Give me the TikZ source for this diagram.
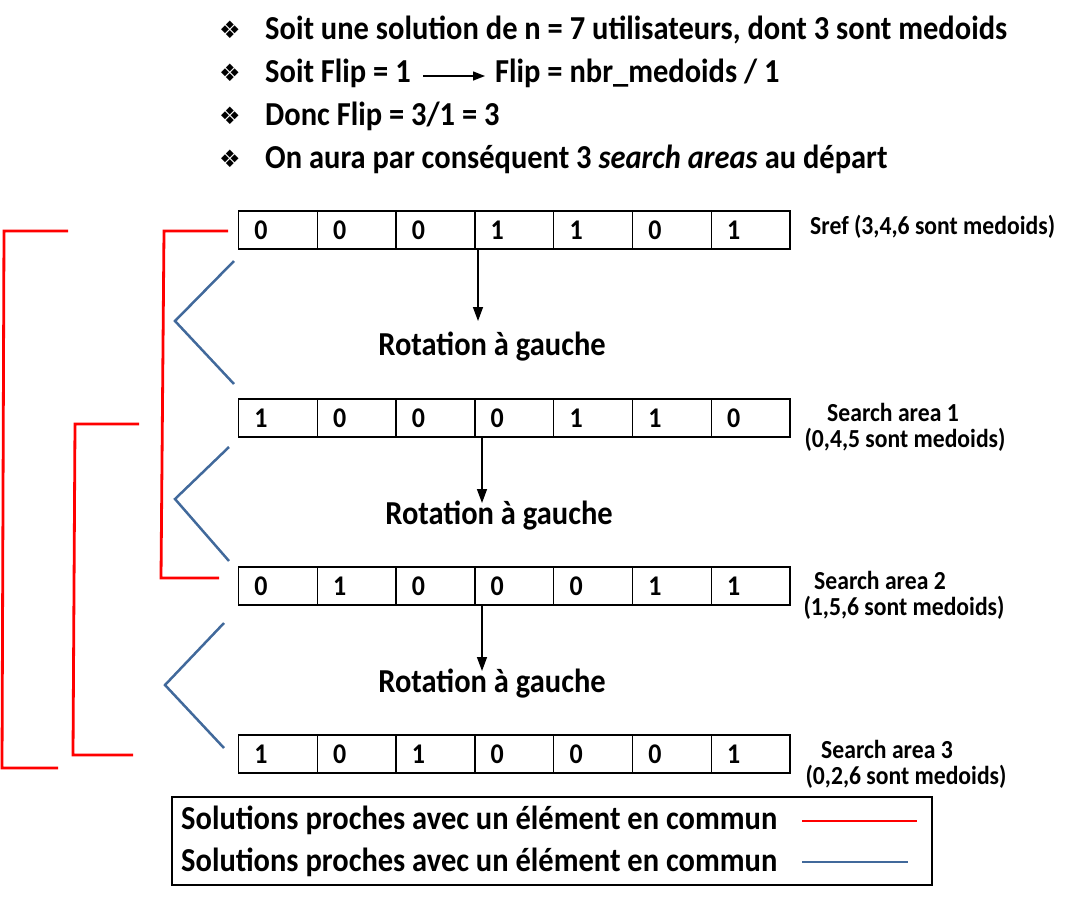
\documentclass[tikz,border=0pt]{standalone}
\usepackage{fontspec}
\setmainfont{Carlito}[FakeStretch=0.91]
\newfontfamily\symfont{DejaVu Sans}
\usetikzlibrary{arrows.meta}
\definecolor{redline}{RGB}{255,0,0}
\definecolor{blueline}{RGB}{65,105,155}
\tikzset{
  cell/.style={draw=black, line width=1.3pt, minimum width=78.8pt, minimum height=38pt, inner sep=0pt, font=\fontsize{28.5}{32}\selectfont\bfseries},
  bigtxt/.style={font=\fontsize{33.5}{38}\selectfont\bfseries, inner sep=0pt},
  smalltxt/.style={font=\fontsize{26}{30}\selectfont\bfseries, inner sep=0pt},
  redl/.style={draw=redline, line width=2.8pt},
  bluel/.style={draw=blueline, line width=2.5pt},
  arr/.style={draw=black, line width=1.4pt, -{Triangle[length=14pt,width=10pt]}},
}
\begin{document}
\begin{tikzpicture}[x=1pt,y=-1pt]
\useasboundingbox (0,0) rectangle (1076,906);
% bullets
\foreach \yy/\nm in {30/b1,73/b2,116/b3,159/b4}{
  \node[inner sep=0pt, font=\symfont\fontsize{24}{28}\selectfont] (\nm) at (230,\yy) {❖};
}
\node[bigtxt, anchor=west] (t1) at (265,30) {Soit une solution de n = 7 utilisateurs, dont 3 sont medoids};
\node[bigtxt, anchor=west] (t2a) at (265,73) {Soit Flip = 1};
\node[bigtxt, anchor=west] (t2b) at (495,73) {Flip = nbr\_medoids / 1};
\coordinate (fa) at (423,76);
\coordinate (fb) at (485,76);
\draw[draw=black, line width=1.4pt, -{Triangle[length=12pt,width=9pt]}] (fa) -- (fb);
\node[bigtxt, anchor=west] (t3) at (265,116) {Donc Flip = 3/1 = 3};
\node[bigtxt, anchor=west] (t4) at (265,159) {On aura par conséquent 3 \textit{search areas} au départ};
% rows
\foreach \r/\yy/\vals in {1/230/{0,0,0,1,1,0,1},2/418/{1,0,0,0,1,1,0},3/586/{0,1,0,0,0,1,1},4/754/{1,0,1,0,0,0,1}}{
  \foreach \v [count=\c] in \vals {
    \node[cell] (r\r c\c) at ({238.5+78.8*(\c-0.5)},\yy) {\hspace*{-34pt}\v};
  }
}
% labels
\node[smalltxt, anchor=west] (l1) at (810,227) {Sref (3,4,6 sont medoids)};
\node[smalltxt] (l2a) at (893,412) {Search area 1};
\node[smalltxt] (l2b) at (905,440) {(0,4,5 sont medoids)};
\node[smalltxt] (l3a) at (880,580) {Search area 2};
\node[smalltxt] (l3b) at (904,608) {(1,5,6 sont medoids)};
\node[smalltxt] (l4a) at (887,749) {Search area 3};
\node[smalltxt] (l4b) at (906,777) {(0,2,6 sont medoids)};
% rotations
\node[bigtxt] (rot1) at (492,347) {Rotation à gauche};
\node[bigtxt] (rot2) at (499,516) {Rotation à gauche};
\node[bigtxt] (rot3) at (492,684) {Rotation à gauche};
\coordinate (a1s) at (478,249);
\coordinate (a1e) at (478,321);
\coordinate (a2s) at (482,437);
\coordinate (a2e) at (482,503);
\coordinate (a3s) at (482,605);
\coordinate (a3e) at (482,671);
\draw[arr] (a1s) -- (a1e);
\draw[arr] (a2s) -- (a2e);
\draw[arr] (a3s) -- (a3e);
% red brackets
\draw[redl] (68,231) -- (4,231) -- (2,768) -- (58,768);
\draw[redl] (228,231) -- (164,231) -- (161,578) -- (219,578);
\draw[redl] (139,424) -- (75,424) -- (73,755) -- (133,755);
% blue chevrons
\draw[bluel] (234,261) -- (175,321) -- (234,384);
\draw[bluel] (229,447) -- (175,499) -- (229,561);
\draw[bluel] (224,623) -- (165,685) -- (224,748);
% legend
\node[draw=black, line width=1.3pt, minimum width=760pt, minimum height=88pt, inner sep=0pt] (leg) at (552,841) {};
\node[bigtxt, anchor=west] (lg1) at (181,820) {Solutions proches avec un élément en commun};
\node[bigtxt, anchor=west] (lg2) at (181,862) {Solutions proches avec un élément en commun};
\coordinate (lr1) at (802,821);
\coordinate (lr2) at (917,821);
\coordinate (lb1) at (802,862);
\coordinate (lb2) at (908,862);
\draw[redl] (lr1) -- (lr2);
\draw[bluel] (lb1) -- (lb2);
\end{tikzpicture}
\end{document}
